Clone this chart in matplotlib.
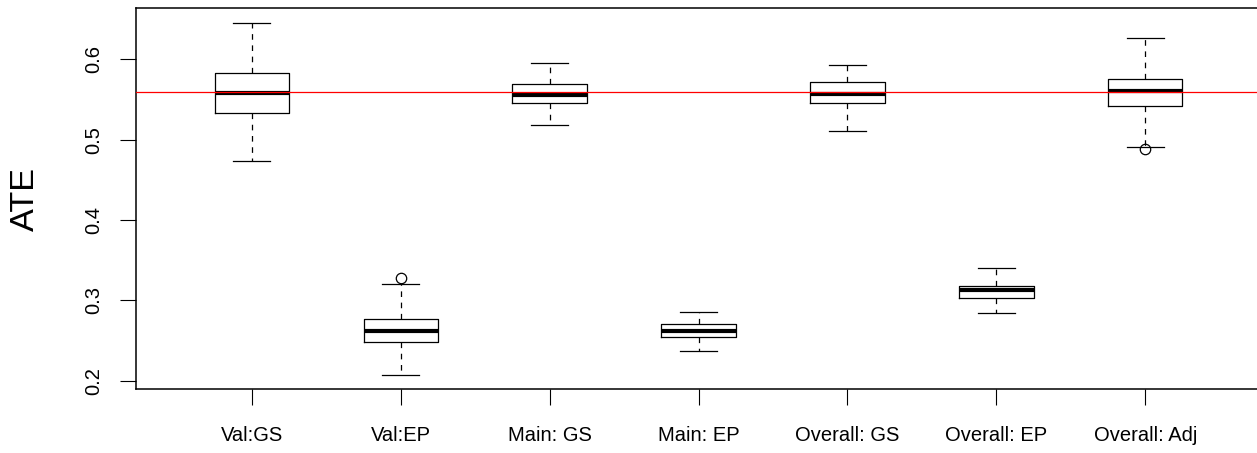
import matplotlib
matplotlib.use("Agg")
import matplotlib.pyplot as plt

plt.rcParams['font.family'] = ['Liberation Sans', 'DejaVu Sans']

labels = ["Val:GS", "Val:EP", "Main: GS", "Main: EP", "Overall: GS", "Overall: EP", "Overall: Adj"]
whislo = [0.4732, 0.2071, 0.5188, 0.2374, 0.5113, 0.2847, 0.4914]
q1     = [0.5337, 0.2478, 0.5458, 0.2548, 0.5462, 0.3034, 0.5421]
med    = [0.5587, 0.2619, 0.5562, 0.2623, 0.5570, 0.3130, 0.5608]
q3     = [0.5828, 0.2772, 0.5699, 0.2702, 0.5720, 0.3183, 0.5761]
whishi = [0.6458, 0.3200, 0.5953, 0.2852, 0.5931, 0.3400, 0.6264]
fliers = [[], [0.3275], [], [], [], [], [0.4882]]
true_ate = 0.5591
yticks = [0.2, 0.3, 0.4, 0.5, 0.6]

stats = []
for i in range(len(labels)):
    stats.append(dict(label=labels[i], whislo=whislo[i], q1=q1[i], med=med[i],
                      q3=q3[i], whishi=whishi[i], fliers=fliers[i]))

fig = plt.figure(figsize=(12.57, 4.53), dpi=100)
ax = fig.add_axes([0.10796, 0.14128, 0.8955, 0.8404])

lw = 0.9
ax.bxp(stats, positions=range(1, len(labels) + 1), widths=0.5,
       showfliers=True,
       boxprops=dict(color='black', linewidth=lw),
       medianprops=dict(color='black', linewidth=3.0, solid_capstyle='butt'),
       whiskerprops=dict(color='black', linewidth=lw, linestyle=(0, (4.5, 4.5))),
       capprops=dict(color='black', linewidth=lw),
       capwidths=0.25,
       flierprops=dict(marker='o', markerfacecolor='none', markeredgecolor='black',
                       markersize=7.5, markeredgewidth=lw))

ax.axhline(true_ate, color='#ff0000', linewidth=0.9, zorder=5)

ax.set_xlim(0.22, 7.78)
ax.set_ylim(0.1897, 0.6637)
ax.set_yticks(yticks)
ax.set_yticklabels([f"{v:.1f}" for v in yticks], rotation=90, va='center', fontsize=14.5)
ax.set_xticks(range(1, len(labels) + 1))
ax.set_xticklabels(labels, fontsize=14.5)
ax.tick_params(axis='both', length=11.5, width=0.8, color='black')
ax.tick_params(axis='y', pad=12)
ax.tick_params(axis='x', pad=15)
for s in ax.spines.values():
    s.set_linewidth(1.1)
    s.set_clip_on(False)

fig.text(25 / 1257, 1 - 199 / 453, "ATE", rotation=90, va='center', ha='center', fontsize=24.7)

fig.savefig("out.png", dpi=100)
